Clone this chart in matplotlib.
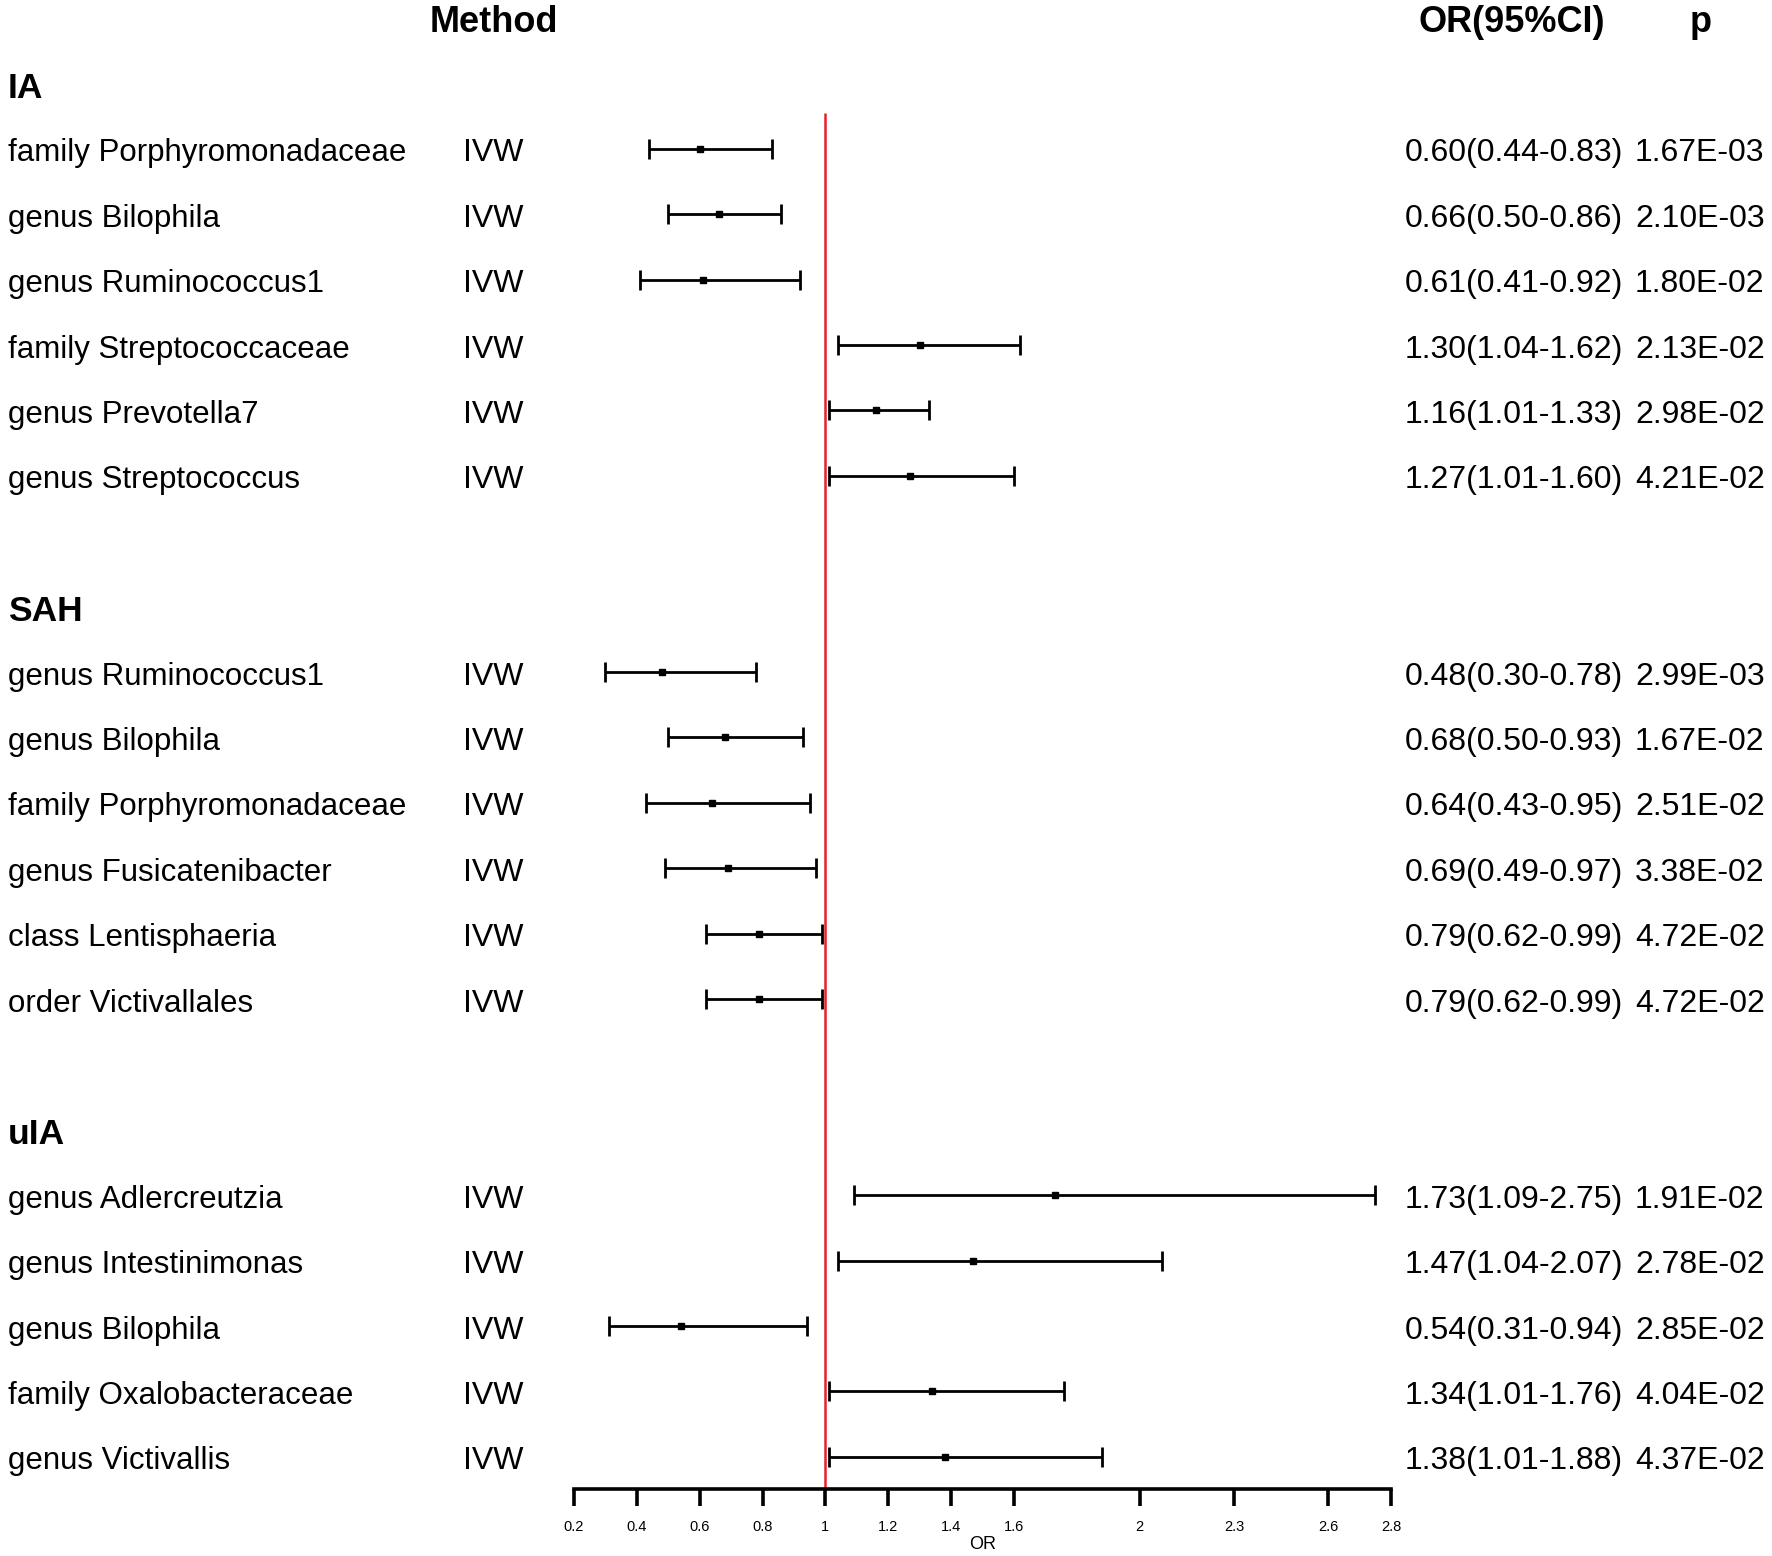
import matplotlib.pyplot as plt
import matplotlib.transforms as mtransforms

plt.rcParams['font.family'] = ['Liberation Sans', 'DejaVu Sans']

# groups and their exposures
groups = ["IA", "SAH", "uIA"]
ia_names = ["family Porphyromonadaceae", "genus Bilophila", "genus Ruminococcus1",
            "family Streptococcaceae", "genus Prevotella7", "genus Streptococcus"]
ia_or = [0.60, 0.66, 0.61, 1.30, 1.16, 1.27]
ia_lo = [0.44, 0.50, 0.41, 1.04, 1.01, 1.01]
ia_hi = [0.83, 0.86, 0.92, 1.62, 1.33, 1.60]
ia_p = ["1.67E-03", "2.10E-03", "1.80E-02", "2.13E-02", "2.98E-02", "4.21E-02"]

sah_names = ["genus Ruminococcus1", "genus Bilophila", "family Porphyromonadaceae",
             "genus Fusicatenibacter", "class Lentisphaeria", "order Victivallales"]
sah_or = [0.48, 0.68, 0.64, 0.69, 0.79, 0.79]
sah_lo = [0.30, 0.50, 0.43, 0.49, 0.62, 0.62]
sah_hi = [0.78, 0.93, 0.95, 0.97, 0.99, 0.99]
sah_p = ["2.99E-03", "1.67E-02", "2.51E-02", "3.38E-02", "4.72E-02", "4.72E-02"]

uia_names = ["genus Adlercreutzia", "genus Intestinimonas", "genus Bilophila",
             "family Oxalobacteraceae", "genus Victivallis"]
uia_or = [1.73, 1.47, 0.54, 1.34, 1.38]
uia_lo = [1.09, 1.04, 0.31, 1.01, 1.01]
uia_hi = [2.75, 2.07, 0.94, 1.76, 1.88]
uia_p = ["1.91E-02", "2.78E-02", "2.85E-02", "4.04E-02", "4.37E-02"]

tick_vals = [0.2, 0.4, 0.6, 0.8, 1, 1.2, 1.4, 1.6, 2, 2.3, 2.6, 2.8]
tick_labels = ["0.2", "0.4", "0.6", "0.8", "1", "1.2", "1.4", "1.6", "2", "2.3", "2.6", "2.8"]

W, H = 1772, 1556
fig = plt.figure(figsize=(W / 100, H / 100), dpi=100)

# row grid in pixels: row i sits at y = 20 + 65.4 * i
y0, step = 20, 65.4
ax_left, ax_right, ax_bottom = 574, 1391, 1489
ax = fig.add_axes([ax_left / W, (H - ax_bottom) / H, (ax_right - ax_left) / W, ax_bottom / H])
ax.set_xlim(0.2, 2.8)
ax.set_ylim((ax_bottom - y0) / step, (0 - y0) / step)

tr = mtransforms.blended_transform_factory(fig.transFigure, ax.transData)

fs = 23
fs_bold = 26
dy = 0.04  # texts sit a touch lower than the bars
col_name, col_method, col_or, col_p = 8 / W, 463 / W, 1405 / W, 1635 / W

# header row
ax.text(494 / W, dy, "Method", transform=tr, ha="center", va="center",
        fontsize=fs_bold, fontweight="bold", clip_on=False)
ax.text(1512 / W, dy, "OR(95%CI)", transform=tr, ha="center", va="center",
        fontsize=fs_bold, fontweight="bold", clip_on=False)
ax.text(1701 / W, dy, "p", transform=tr, ha="center", va="center",
        fontsize=fs_bold, fontweight="bold", clip_on=False)

data = [(ia_names, ia_or, ia_lo, ia_hi, ia_p),
        (sah_names, sah_or, sah_lo, sah_hi, sah_p),
        (uia_names, uia_or, uia_lo, uia_hi, uia_p)]

row = 1
for g, (names, ors, los, his, ps) in zip(groups, data):
    ax.text(col_name, row + dy, g, transform=tr, ha="left", va="center",
            fontsize=fs_bold - 0.5, fontweight="bold", clip_on=False)
    row += 1
    for n, o, lo, hi, p in zip(names, ors, los, his, ps):
        ax.errorbar(o, row - 0.03, xerr=[[o - lo], [hi - o]], fmt="s", color="black",
                    ms=4.5, elinewidth=2, capsize=7.5, capthick=2)
        ax.text(col_name, row + dy, n, transform=tr, ha="left", va="center",
                fontsize=fs - 0.5, clip_on=False)
        ax.text(col_method, row + dy, "IVW", transform=tr, ha="left", va="center",
                fontsize=fs, clip_on=False)
        ax.text(col_or, row + dy, f"{o:.2f}({lo:.2f}-{hi:.2f})", transform=tr, ha="left",
                va="center", fontsize=fs, clip_on=False)
        ax.text(col_p, row + dy, p, transform=tr, ha="left", va="center", fontsize=fs, clip_on=False)
        row += 1
    row += 1

ax.vlines(1, (113 - y0) / step, ax.get_ylim()[0], color="#e8202a", lw=1.8, zorder=0)

for s in ["top", "right", "left"]:
    ax.spines[s].set_visible(False)
ax.spines["bottom"].set_linewidth(2.6)
ax.set_yticks([])
ax.set_xticks(tick_vals)
ax.set_xticklabels(tick_labels, fontsize=10.5)
ax.tick_params(axis="x", length=12, width=2.6, pad=10)
ax.set_xlabel("OR", fontsize=13, labelpad=2)

fig.savefig("out.png", dpi=100)
